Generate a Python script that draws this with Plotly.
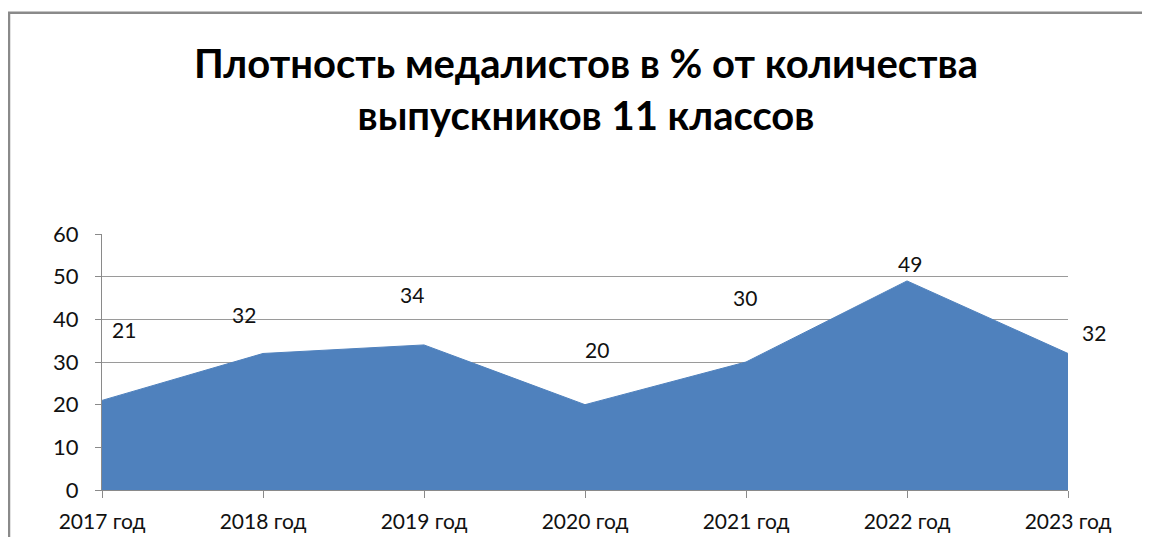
import plotly.graph_objects as go

categories = ["2017 год", "2018 год", "2019 год", "2020 год", "2021 год", "2022 год", "2023 год"]
values = [21, 32, 34, 20, 30, 49, 32]
y_ticks = [0, 10, 20, 30, 40, 50, 60]
title_text = "Плотность медалистов в % от количества<br>выпускников 11 классов"

# label offsets (pixels) relative to each data point, matching the reference's placement
label_dx = [22, -19, -12, 12, -1, 3, 26]
label_dy = [71, 39, 50, 55, 65, 17, 21]

OFF = 7  # page body offset
L, T = 101 - OFF, 233 - OFF
W, H = 1150, 537
pw, ph = 966, 258
R = W - L - pw
B = H - T - ph

fig = go.Figure()
fig.add_trace(go.Scatter(
    x=list(range(len(categories))), y=values, mode="lines", fill="tozeroy",
    line=dict(color="#4F81BD", width=1), fillcolor="#4F81BD", hoverinfo="skip",
    showlegend=False,
))

for i, v in enumerate(values):
    fig.add_annotation(x=i, y=v, text=str(v), showarrow=False,
                       xshift=label_dx[i], yshift=label_dy[i],
                       font=dict(family="Lato, Liberation Sans, sans-serif", size=21, color="#111"))

# outer chart border
bx0, by0 = 8 - OFF, 10 - OFF
fig.add_shape(type="rect", xref="paper", yref="paper",
              x0=(bx0 - L) / pw, x1=(W + 20 - L) / pw,
              y0=-(H + 20 - (T + ph)) / ph, y1=(T + ph - by0) / ph,
              line=dict(color="#8a8a8a", width=2.5), layer="below")

fig.update_layout(
    width=W, height=H,
    margin=dict(l=L, r=R, t=T, b=B),
    paper_bgcolor="white", plot_bgcolor="white",
    title=dict(text=title_text, x=(585 - OFF) / W, xanchor="center", y=0.87, yanchor="top",
               font=dict(family="Lato, Open Sans, sans-serif", size=40, color="black", weight="bold")),
    xaxis=dict(tickmode="array", tickvals=list(range(len(categories))), ticktext=categories,
               range=[0, len(categories) - 1], showgrid=False, zeroline=False,
               showline=True, linecolor="#8a8a8a", linewidth=1,
               ticks="outside", ticklen=7, tickcolor="#8a8a8a", ticklabelstandoff=6,
               tickfont=dict(family="Lato, Liberation Sans, sans-serif", size=21, color="#111")),
    yaxis=dict(range=[0, 60], tickvals=y_ticks, showgrid=True, gridcolor="#9a9a9a", gridwidth=1,
               zeroline=False, showline=True, linecolor="#8a8a8a", linewidth=1,
               ticks="outside", ticklen=6, tickcolor="#8a8a8a", ticklabelstandoff=12,
               tickfont=dict(family="Lato, Liberation Sans, sans-serif", size=22, color="#111")),
)

fig.write_html("out.html")
